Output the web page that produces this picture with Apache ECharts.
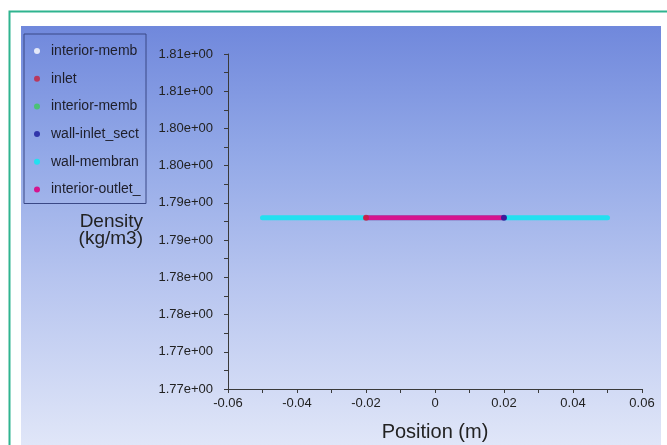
<!DOCTYPE html>
<html>
<head>
<meta charset="utf-8">
<script src="https://cdn.jsdelivr.net/npm/echarts@6/dist/echarts.min.js"></script>
<style>html,body{margin:0;padding:0;background:#fff}#c{width:667px;height:445px}</style>
</head>
<body>
<div id="c"></div>
<script>
// ---- data ----
const seriesNames = ['interior-membrane', 'inlet', 'interior-membrane-shadow', 'wall-inlet_section', 'wall-membrane', 'interior-outlet_section'];
const seriesColors = ['#ffffff', '#c8203c', '#3ccc5a', '#1a1a9c', '#22e0f0', '#d5148e'];
const density = 1.7905;
const interiorMembraneX = [0];
const inletX = [-0.02];
const interiorMembraneShadowX = [0];
const wallInletX = [0.02];
const wallMembraneX = [-0.05, 0.05];
const interiorOutletX = [-0.02, 0.02];
const yTickLabels = ['1.77e+00', '1.77e+00', '1.78e+00', '1.78e+00', '1.79e+00', '1.79e+00', '1.80e+00', '1.80e+00', '1.81e+00', '1.81e+00'];
const xTickLabels = ['-0.06', '-0.04', '-0.02', '0', '0.02', '0.04', '0.06'];
const yTitle = 'Density\n(kg/m3)';
const xTitle = 'Position (m)';
const yMin = 1.7675, yMax = 1.8125, yStep = 0.0025;
const xMin = -0.06, xMax = 0.06, xStep = 0.01;

const chart = echarts.init(document.getElementById('c'));
const FONT = '"Liberation Sans", Arial, sans-serif';
function pts(xs) { return xs.map(x => [x, density]); }
const xsList = [interiorMembraneX, inletX, interiorMembraneShadowX, wallInletX, wallMembraneX, interiorOutletX];

const series = seriesNames.map((name, i) => {
  const xs = xsList[i];
  if (xs.length > 1) {
    return {
      name, type: 'line', data: pts(xs), showSymbol: false, symbol: 'circle',
      color: seriesColors[i], z: i === 5 ? 4 : 3,
      lineStyle: { width: 5, color: seriesColors[i], cap: 'round' },
      silent: true, animation: false
    };
  }
  return {
    name, type: 'scatter', data: pts(xs), symbol: 'circle',
    symbolSize: (i === 1 || i === 3) ? 6 : 3,
    color: seriesColors[i],
    itemStyle: { color: seriesColors[i] },
    z: (i === 1 || i === 3) ? 5 : 1, silent: true, animation: false
  };
});

chart.setOption({
  backgroundColor: '#ffffff',
  animation: false,
  graphic: [
    { type: 'rect', z: -100, silent: true, shape: { x: 21, y: 26, width: 640, height: 419 },
      style: { fill: new echarts.graphic.LinearGradient(0, 0, 0, 1, [
        { offset: 0, color: '#7088dc' },
        { offset: 0.3, color: '#92a8e7' },
        { offset: 0.6, color: '#b6c4ef' },
        { offset: 1, color: '#e0e6f8' }]) } },
    { type: 'polyline', z: -90, silent: true, shape: { points: [[9.5, 445], [9.5, 11.5], [667, 11.5]] },
      style: { stroke: '#2fb48f', lineWidth: 2, fill: null } },
    { type: 'text', z: 10, silent: true, x: 143, y: 230,
      style: { text: yTitle, font: '19px ' + FONT, fill: '#222', align: 'right', verticalAlign: 'middle', lineHeight: 17 } }
  ],
  legend: {
    orient: 'vertical', left: 24, top: 34,
    data: seriesNames,
    icon: 'circle', itemWidth: 6, itemHeight: 6, itemGap: 13.7,
    padding: [10, 2, 7, 10],
    borderColor: '#3a4886', borderWidth: 1,
    backgroundColor: 'transparent',
    selectedMode: false,
    textStyle: { fontFamily: FONT, fontSize: 14, color: '#1e1e2a', lineHeight: 14, width: 93,
      overflow: 'truncate', ellipsis: '', padding: [0, 0, 0, 6] }
  },
  grid: { left: 228, right: 25, top: 54, bottom: 56, containLabel: false, outerBoundsMode: 'none' },
  xAxis: {
    type: 'value', min: xMin, max: xMax, interval: xStep,
    name: xTitle, nameLocation: 'middle', nameGap: 33,
    nameTextStyle: { fontFamily: FONT, fontSize: 20, color: '#222' },
    axisLine: { show: true, onZero: false, lineStyle: { color: '#3a3a3a', width: 1 } },
    axisTick: { show: true, inside: false, length: 4, lineStyle: { color: '#3a3a3a' } },
    splitLine: { show: false },
    axisLabel: { margin: 8, fontFamily: FONT, fontSize: 13, color: '#222',
      formatter: function (v) { const k = Math.round((v - xMin) / xStep); return k % 2 === 0 ? xTickLabels[k / 2] : ''; } }
  },
  yAxis: {
    type: 'value', min: yMin, max: yMax, interval: yStep,
    axisLine: { show: true, onZero: false, lineStyle: { color: '#3a3a3a', width: 1 } },
    axisTick: { show: true, inside: false, length: 4, lineStyle: { color: '#3a3a3a' } },
    splitLine: { show: false },
    axisLabel: { margin: 15, fontFamily: FONT, fontSize: 13, color: '#222',
      formatter: function (v) { const k = Math.round((v - yMin) / yStep); return k % 2 === 0 ? yTickLabels[k / 2] : ''; } }
  },
  series: series
});
</script>
</body>
</html>
